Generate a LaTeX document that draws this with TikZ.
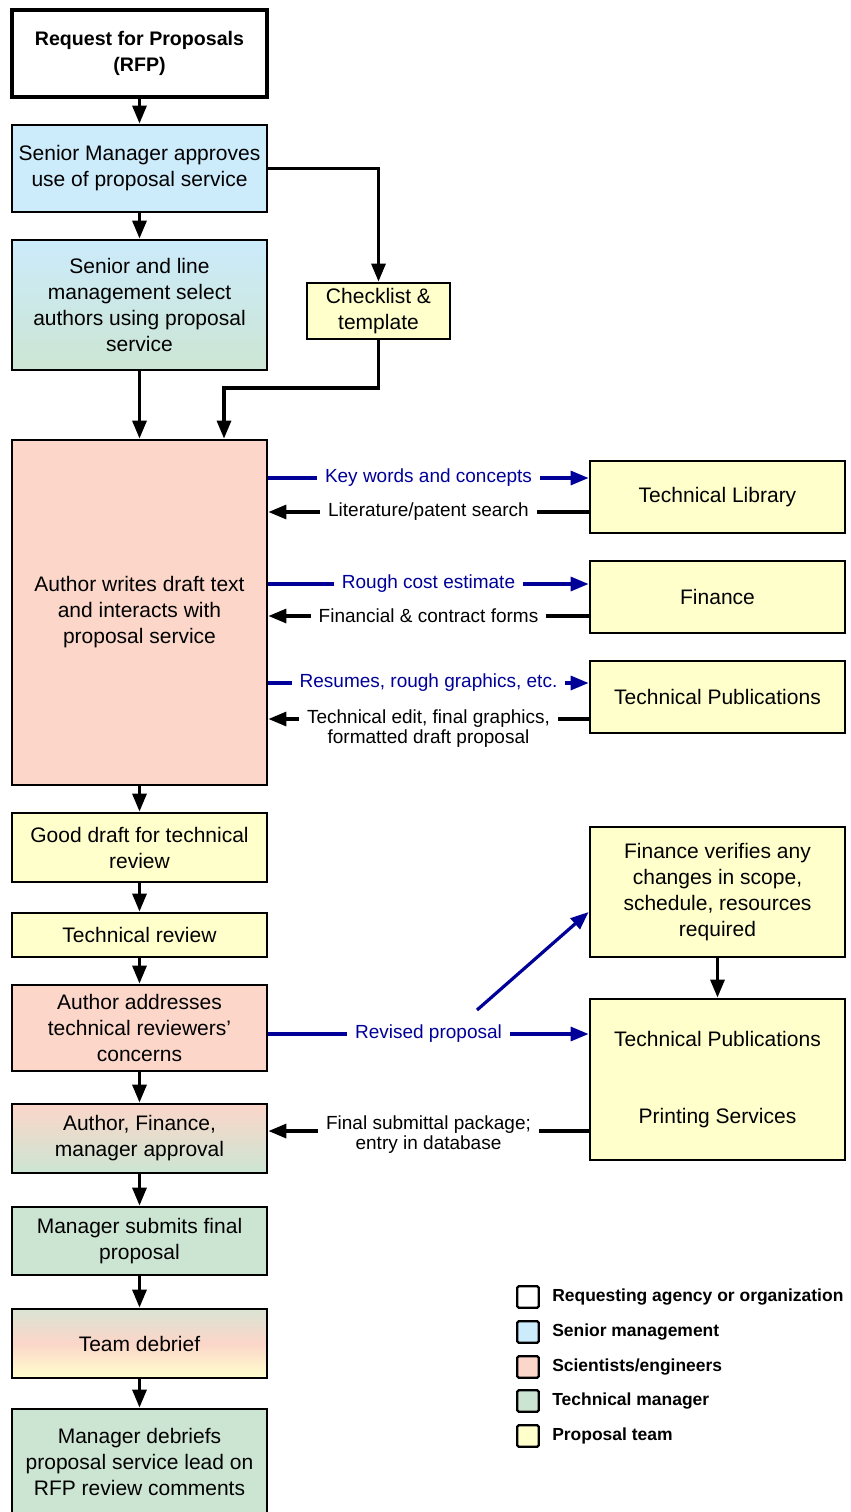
\documentclass[tikz,border=0pt]{standalone}
\usepackage{fontspec}
\setmainfont{Liberation Sans}
\usetikzlibrary{arrows.meta}
\definecolor{smgmt}{RGB}{204,235,251}
\definecolor{sci}{RGB}{251,214,201}
\definecolor{tmgr}{RGB}{204,229,211}
\definecolor{tmgrgrey}{RGB}{218,228,212}
\definecolor{pteam}{RGB}{255,255,204}
\definecolor{flow}{RGB}{0,0,153}

\begin{document}
\begin{tikzpicture}[x=0.75pt,y=-0.75pt,
  every node/.style={font=\fontsize{15.75}{19.5}\selectfont},
  box/.style={draw=black, line width=2.1pt, inner sep=0pt, align=center},
  sz/.style 2 args={minimum width=#1*0.75pt, minimum height=#2*0.75pt},
  arr/.style={line width=2.4pt, -{Triangle[length=13.5pt,width=10.5pt]}},
  barr/.style={arr, color=flow},
  lbl/.style={fill=white, inner xsep=6pt, inner ysep=1pt, align=center, text=black,
    font=\fontsize{14.25}{15}\selectfont},
  blbl/.style={lbl, text=flow},
  keybox/.style={draw, line width=1.7pt, minimum size=16pt, inner sep=0pt, rounded corners=1pt},
  keytext/.style={anchor=west, inner sep=0pt, font=\bfseries\fontsize{13.1}{15}\selectfont}
]
\useasboundingbox (0,0) rectangle (850,1512);
\clip (0,0) rectangle (850,1512);

% main column (centre x = 139.5, width 255)
\node[box, line width=3pt, sz={255}{87}, font=\bfseries\fontsize{14.7}{19.5}\selectfont]
     (rfp) at (139.5,53.5) {Request for Proposals\\(RFP)};
\node[box, fill=smgmt, sz={255}{87}] (sm) at (139.5,168.5)
     {Senior Manager approves\\use of proposal service};
\node[box, top color=smgmt, bottom color=tmgr, sz={255}{130}] (sel) at (139.5,305)
     {Senior and line\\management select\\authors using proposal\\service};
\node[box, fill=pteam, sz={143}{56}] (chk) at (378.5,311) {Checklist \&\\template};
\node[box, fill=sci, sz={255}{345}] (auth) at (139.5,612.5)
     {Author writes draft text\\and interacts with\\proposal service};
\node[box, fill=pteam, sz={255}{69}] (draft) at (139.5,847.5) {Good draft for technical\\review};
\node[box, fill=pteam, sz={255}{44}] (rev) at (139.5,935) {Technical review};
\node[box, fill=sci, sz={255}{86}] (addr) at (139.5,1028)
     {Author addresses\\technical reviewers'\\concerns};
\node[box, top color=sci, bottom color=tmgr, sz={255}{69}] (appr) at (139.5,1138.5)
     {Author, Finance,\\manager approval};
\node[box, fill=tmgr, sz={255}{68}] (subm) at (139.5,1241) {Manager submits final\\proposal};
\node[box, top color=tmgrgrey, bottom color=pteam, middle color=sci, sz={255}{69}] (deb)
     at (139.5,1343.5) {Team debrief};
\node[box, fill=tmgr, sz={255}{106}] (lead) at (139.5,1462)
     {Manager debriefs\\proposal service lead on\\RFP review comments};

% service boxes (centre x = 717.5)
\node[box, fill=pteam, sz={255}{72}] (lib) at (717.5,497) {Technical Library};
\node[box, fill=pteam, sz={255}{72}] (fin) at (717.5,597) {Finance};
\node[box, fill=pteam, sz={255}{72}] (pub) at (717.5,697) {Technical Publications};
\node[box, fill=pteam, sz={255}{130}] (fv) at (717.5,892)
     {Finance verifies any\\changes in scope,\\schedule, resources\\required};
\node[box, fill=pteam, sz={255}{161}] (prt) at (717.5,1079.5)
     {Technical Publications\\[38pt]Printing Services};

% flow down the main column
\draw[arr] (rfp) -- (sm);
\draw[arr] (sm) -- (sel);
\draw[arr] (sel) -- (auth);
\draw[arr] (auth) -- (draft);
\draw[arr] (draft) -- (rev);
\draw[arr] (rev) -- (addr);
\draw[arr] (addr) -- (appr);
\draw[arr] (appr) -- (subm);
\draw[arr] (subm) -- (deb);
\draw[arr] (deb) -- (lead);

% checklist branch
\coordinate (jog) at (224,388);
\draw[arr] (sm.east) -| (chk.north);
\draw[arr] (chk.south) |- (jog) -- (jog |- auth.north);

% exchanges with the services
\draw[barr] ([yshift=14.25pt]lib.west -| auth.east) -- ([yshift=14.25pt]lib.west)
  node[midway, blbl] (l1) {Key words and concepts};
\draw[arr] ([yshift=-11.25pt]lib.west) -- ([yshift=-11.25pt]lib.west -| auth.east)
  node[midway, lbl] (l2) {Literature/patent search};
\draw[barr] ([yshift=9.75pt]fin.west -| auth.east) -- ([yshift=9.75pt]fin.west)
  node[midway, blbl] (l3) {Rough cost estimate};
\draw[arr] ([yshift=-14.25pt]fin.west) -- ([yshift=-14.25pt]fin.west -| auth.east)
  node[midway, lbl] (l4) {Financial \& contract forms};
\draw[barr] ([yshift=10.5pt]pub.west -| auth.east) -- ([yshift=10.5pt]pub.west)
  node[midway, blbl] (l5) {Resumes, rough graphics, etc.};
\draw[arr] ([yshift=-16.5pt]pub.west) -- ([yshift=-16.5pt]pub.west -| auth.east)
  node[midway, lbl, yshift=-7.5pt] (l6) {Technical edit, final graphics,\\formatted draft proposal};

% revision loop
\draw[barr] ([yshift=-4.5pt]addr.east) -- ([yshift=-4.5pt]addr.east -| prt.west)
  node[midway, blbl] (l7) {Revised proposal};
\coordinate (diag) at (477,1010);
\draw[barr] (diag) -- ([yshift=-15pt]fv.west);
\draw[arr] (fv) -- (prt);
\draw[arr] ([yshift=5.6pt]appr.east -| prt.west) -- ([yshift=5.6pt]appr.east)
  node[midway, lbl, yshift=-2.6pt] (l8) {Final submittal package;\\entry in database};

% legend
\node[keybox, fill=white] (k1) at (528,1297) {};
\node[keybox, fill=smgmt] (k2) at (528,1332) {};
\node[keybox, fill=sci]   (k3) at (528,1367) {};
\node[keybox, fill=tmgr]  (k4) at (528,1401) {};
\node[keybox, fill=pteam] (k5) at (528,1436) {};
\node[keytext] (t1) at (552,1297) {Requesting agency or organization};
\node[keytext] (t2) at (552,1332) {Senior management};
\node[keytext] (t3) at (552,1367) {Scientists/engineers};
\node[keytext] (t4) at (552,1401) {Technical manager};
\node[keytext] (t5) at (552,1436) {Proposal team};
\end{tikzpicture}
\end{document}
